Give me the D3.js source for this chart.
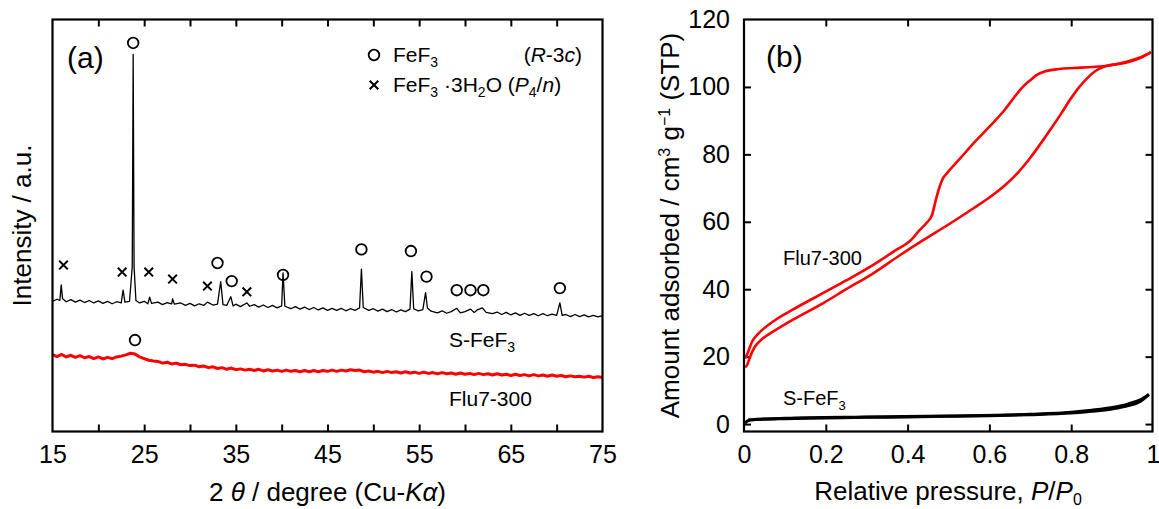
<!DOCTYPE html>
<html>
<head>
<meta charset="utf-8">
<script src="https://cdn.jsdelivr.net/npm/d3@7"></script>
<style>
  body { margin: 0; background: #fff; }
  text { font-family: 'Liberation Sans', Arial, sans-serif; fill: #000; }
</style>
</head>
<body>
<div class="canvas"></div>
<script>
// ---------- data: panel (a) XRD, [2theta, intensity (a.u.)] ----------
const sFeF3Xrd = [
  [15.0, 31.6], [15.5, 32.1], [15.8, 31.8], [15.95, 35.6], [16.1, 32.2], [16.5, 31.5], [17.0, 32.0],
  [17.5, 31.4], [18.0, 31.9], [18.5, 31.3], [19.0, 31.8], [19.5, 31.2], [20.0, 31.7], [20.5, 31.1],
  [21.0, 31.6], [21.5, 31.0], [22.0, 31.5], [22.5, 31.2], [22.7, 34.3], [22.9, 31.4], [23.4, 31.6],
  [23.7, 40.0], [23.8, 91.5], [23.9, 40.0], [24.1, 31.8], [24.5, 31.2], [25.0, 31.6], [25.4, 31.0],
  [25.6, 32.6], [25.8, 31.1], [26.5, 31.4], [27.0, 30.8], [27.5, 31.3], [28.0, 31.0], [28.1, 32.2],
  [28.3, 30.9], [29.0, 31.2], [29.5, 30.6], [30.0, 31.1], [30.5, 30.5], [31.0, 31.0], [31.5, 30.6],
  [31.9, 31.4], [32.5, 30.7], [33.0, 30.9], [33.35, 36.4], [33.6, 30.8], [34.0, 30.6], [34.45, 32.7],
  [34.7, 30.5], [35.0, 30.9], [35.5, 30.3], [36.2, 31.2], [36.5, 30.4], [37.0, 30.8], [37.5, 30.2],
  [38.0, 30.7], [38.5, 30.1], [39.0, 30.6], [39.5, 30.0], [40.0, 30.5], [40.15, 38.5], [40.35, 30.4],
  [41.0, 29.8], [41.5, 30.3], [42.0, 29.7], [42.5, 30.2], [43.0, 29.6], [43.5, 30.1], [44.0, 29.5],
  [44.5, 30.0], [45.0, 29.4], [45.5, 29.9], [46.0, 29.4], [46.5, 29.9], [47.0, 29.3], [47.5, 29.8],
  [48.0, 29.4], [48.5, 30.0], [48.7, 39.4], [48.9, 30.1], [49.5, 29.4], [50.0, 29.8], [50.5, 29.2],
  [51.0, 29.7], [51.5, 29.1], [52.0, 29.6], [52.5, 29.0], [53.0, 29.5], [53.5, 29.1], [54.0, 29.7],
  [54.2, 38.8], [54.4, 29.8], [54.9, 29.3], [55.4, 29.6], [55.7, 33.7], [55.9, 30.0], [56.3, 29.2],
  [57.0, 28.8], [57.5, 29.3], [58.0, 28.7], [58.5, 29.1], [59.1, 29.9], [59.5, 28.8], [60.0, 29.1],
  [60.6, 29.7], [61.0, 28.9], [61.4, 29.6], [61.9, 30.0], [62.3, 28.9], [63.0, 28.6], [63.5, 29.0],
  [64.0, 28.4], [64.5, 28.9], [65.0, 28.3], [65.5, 28.8], [66.0, 28.2], [66.5, 28.7], [67.0, 28.2],
  [67.5, 28.6], [68.0, 28.1], [68.5, 28.6], [69.0, 28.1], [69.5, 28.5], [70.0, 28.2], [70.35, 31.2],
  [70.6, 28.2], [71.0, 28.4], [71.5, 27.9], [72.0, 28.4], [72.5, 27.9], [73.0, 28.3], [73.5, 27.8],
  [74.0, 28.2], [74.5, 27.8], [75.0, 28.1]
];

const flu7Xrd = [
  [15.0, 18.6], [15.5, 18.2], [16.0, 18.7], [16.5, 18.1], [17.0, 18.5], [17.5, 18.0], [18.0, 18.4],
  [18.5, 17.9], [19.0, 18.2], [19.5, 17.7], [20.0, 18.1], [20.5, 17.6], [21.0, 18.0], [21.5, 17.7],
  [22.0, 18.1], [22.5, 18.3], [23.0, 18.6], [23.5, 19.0], [24.0, 18.8], [24.5, 18.1], [25.0, 17.7],
  [25.5, 17.3], [26.0, 17.1], [26.5, 17.0], [27.0, 16.6], [27.5, 16.8], [28.0, 16.4], [28.5, 16.6],
  [29.0, 16.2], [29.5, 16.3], [30.0, 16.0], [30.5, 16.1], [31.0, 15.7], [31.5, 15.9], [32.0, 15.5],
  [32.5, 15.7], [33.0, 15.3], [33.5, 15.5], [34.0, 15.1], [34.5, 15.4], [35.0, 15.0], [35.5, 15.2],
  [36.0, 14.9], [36.5, 15.1], [37.0, 14.8], [37.5, 15.1], [38.0, 14.7], [38.5, 15.0], [39.0, 14.7],
  [39.5, 14.9], [40.0, 14.6], [40.5, 14.9], [41.0, 14.6], [41.5, 14.8], [42.0, 14.5], [42.5, 14.8],
  [43.0, 14.5], [43.5, 14.8], [44.0, 14.5], [44.5, 14.8], [45.0, 14.6], [45.5, 14.9], [46.0, 14.6],
  [46.5, 14.9], [47.0, 14.7], [47.5, 15.0], [48.0, 14.8], [48.5, 14.9], [49.0, 14.5], [49.5, 14.7],
  [50.0, 14.4], [50.5, 14.6], [51.0, 14.3], [51.5, 14.6], [52.0, 14.3], [52.5, 14.5], [53.0, 14.2],
  [53.5, 14.5], [54.0, 14.2], [54.5, 14.4], [55.0, 14.1], [55.5, 14.4], [56.0, 14.1], [56.5, 14.3],
  [57.0, 14.0], [57.5, 14.3], [58.0, 14.0], [58.5, 14.2], [59.0, 13.9], [59.5, 14.2], [60.0, 13.9],
  [60.5, 14.1], [61.0, 13.8], [61.5, 14.1], [62.0, 13.8], [62.5, 14.0], [63.0, 13.7], [63.5, 14.0],
  [64.0, 13.7], [64.5, 13.9], [65.0, 13.6], [65.5, 13.9], [66.0, 13.6], [66.5, 13.8], [67.0, 13.5],
  [67.5, 13.8], [68.0, 13.5], [68.5, 13.7], [69.0, 13.4], [69.5, 13.7], [70.0, 13.4], [70.5, 13.6],
  [71.0, 13.3], [71.5, 13.5], [72.0, 13.3], [72.5, 13.4], [73.0, 13.2], [73.5, 13.4], [74.0, 13.1],
  [74.5, 13.3], [75.0, 13.1]
];

// phase markers [2theta, height]
const fef3Marks = [[23.8, 94.3], [33.0, 40.9], [34.55, 36.5], [40.15, 38.0], [48.7, 44.2], [54.1, 43.8],
  [55.8, 37.6], [59.1, 34.3], [60.6, 34.3], [62.0, 34.3], [70.35, 34.8]];
const flu7Marks = [[24.0, 22.2]];
const hydrateMarks = [[16.2, 40.4], [22.6, 38.7], [25.5, 38.7], [28.1, 37.0], [31.9, 35.3], [36.2, 33.9]];

const xTicksA = [20, 25, 30, 35, 40, 45, 50, 55, 60, 65, 70];
const xLabelsA = [15, 25, 35, 45, 55, 65, 75];

// ---------- data: panel (b) N2 isotherms, [P/P0, cm3 g-1] ----------
const flu7Ads = [
  [0.003, 16.8], [0.008, 17.6], [0.015, 20.0], [0.027, 23.0], [0.045, 25.3], [0.072, 27.5], [0.12, 31.0],
  [0.194, 35.9], [0.25, 40.0], [0.317, 44.8], [0.38, 50.0], [0.44, 54.7], [0.50, 59.2], [0.562, 64.1],
  [0.60, 67.2], [0.636, 70.6], [0.67, 74.6], [0.70, 79.0], [0.73, 84.0], [0.75, 87.5], [0.775, 92.0],
  [0.795, 95.8], [0.82, 100.0], [0.84, 102.7], [0.86, 104.8], [0.88, 106.0], [0.93, 107.1],
  [0.97, 108.6], [0.995, 110.3]
];
const flu7Des = [
  [0.003, 19.5], [0.008, 20.8], [0.02, 24.5], [0.035, 26.8], [0.072, 30.5], [0.12, 34.0], [0.194, 38.9],
  [0.25, 42.6], [0.317, 47.3], [0.37, 51.5], [0.41, 54.8], [0.427, 57.2], [0.445, 59.5], [0.46, 62.1],
  [0.468, 66.0], [0.476, 69.5], [0.487, 73.0], [0.497, 74.5], [0.53, 79.0], [0.562, 83.4], [0.60, 88.2],
  [0.636, 93.0], [0.66, 96.8], [0.68, 99.8], [0.70, 102.0], [0.715, 103.5], [0.735, 104.6],
  [0.77, 105.3], [0.807, 105.6], [0.85, 105.9], [0.889, 106.3], [0.93, 107.3], [0.97, 108.8], [0.995, 110.3]
];
const sFeF3Ads = [
  [0.002, 0.3], [0.01, 1.0], [0.02, 1.3], [0.05, 1.5], [0.1, 1.6], [0.2, 1.8], [0.3, 2.0], [0.4, 2.1],
  [0.5, 2.3], [0.6, 2.5], [0.7, 2.8], [0.8, 3.3], [0.85, 3.8], [0.9, 4.5], [0.94, 5.5], [0.97, 6.8], [0.99, 8.8]
];
const sFeF3Des = [
  [0.01, 1.2], [0.1, 1.7], [0.3, 2.1], [0.5, 2.4], [0.7, 2.9], [0.8, 3.5], [0.85, 4.1], [0.9, 4.9],
  [0.94, 6.0], [0.97, 7.3], [0.99, 8.8]
];

const xTicksB = [0.2, 0.4, 0.6, 0.8];
const xLabelsB = [0, 0.2, 0.4, 0.6, 0.8, 1];
const yTicksB = [0, 20, 40, 60, 80, 100];
const yLabelsB = [0, 20, 40, 60, 80, 100, 120];

// ---------- layout ----------
const dims = { width: 1159, height: 509 };
const boxA = { left: 52.5, right: 602.5, top: 19.5, bottom: 431.5 };
const boxB = { left: 744, right: 1152.5, top: 19.5, bottom: 431.5 };
const tickFont = 25;
const titleFont = 26;

const svg = d3.select('.canvas')
  .append('svg')
  .attr('width', dims.width)
  .attr('height', dims.height);

svg.append('rect').attr('width', dims.width).attr('height', dims.height).attr('fill', '#fff');

const xA = d3.scaleLinear().domain([15, 75]).range([boxA.left, boxA.right]);
const yA = d3.scaleLinear().domain([0, 100]).range([boxA.bottom, boxA.top]);
const xB = d3.scaleLinear().domain([0, 1]).range([boxB.left, 1153]);
const yB = d3.scaleLinear().domain([-2.2, 120]).range([boxB.bottom, boxB.top]);

// inward ticks with no labels
const tickAxis = (g, axis, values) => {
  g.call(axis.tickValues(values).tickSize(-7).tickFormat(''));
  g.select('.domain').remove();
  g.selectAll('line').attr('stroke', '#000').attr('stroke-width', 2);
};
// labels only
const labelAxis = (g, axis, values, fmt) => {
  g.call(axis.tickValues(values).tickSize(0).tickPadding(14).tickFormat(fmt));
  g.select('.domain').remove();
  g.selectAll('text').attr('font-size', tickFont).attr('font-family', "'Liberation Sans', Arial, sans-serif").attr('fill', '#000');
};

// ===== panel (a) =====
const gA = svg.append('g');

gA.append('g').attr('transform', `translate(0,${boxA.bottom})`).call(tickAxis, d3.axisBottom(xA), xTicksA);
gA.append('g').attr('transform', `translate(0,${boxA.top})`).call(tickAxis, d3.axisTop(xA), xTicksA);
gA.append('g').attr('transform', `translate(0,${boxA.bottom})`).call(labelAxis, d3.axisBottom(xA), xLabelsA, d3.format('d'));

const lineA = d3.line().x((d) => xA(d[0])).y((d) => yA(d[1]));

gA.append('path').datum(flu7Xrd)
  .attr('d', lineA).attr('fill', 'none').attr('stroke', '#ff0000').attr('stroke-width', 3)
  .attr('stroke-linejoin', 'round');
gA.append('path').datum(sFeF3Xrd)
  .attr('d', lineA).attr('fill', 'none').attr('stroke', '#000').attr('stroke-width', 1.3)
  .attr('stroke-linejoin', 'round');

// markers
gA.selectAll('circle.fef3').data(fef3Marks.concat(flu7Marks)).enter().append('circle')
  .attr('class', 'fef3')
  .attr('cx', (d) => xA(d[0])).attr('cy', (d) => yA(d[1])).attr('r', 5.3)
  .attr('fill', 'none').attr('stroke', '#000').attr('stroke-width', 1.8);

const crossPath = (x, y, s) => `M${x - s},${y - s}L${x + s},${y + s}M${x - s},${y + s}L${x + s},${y - s}`;
gA.selectAll('path.hyd').data(hydrateMarks).enter().append('path')
  .attr('class', 'hyd')
  .attr('d', (d) => crossPath(xA(d[0]), yA(d[1]), 4.3))
  .attr('stroke', '#000').attr('stroke-width', 2);

// legend
gA.append('circle').attr('cx', 374).attr('cy', 55).attr('r', 5.3)
  .attr('fill', 'none').attr('stroke', '#000').attr('stroke-width', 1.8);
gA.append('path').attr('d', crossPath(374, 85, 4.3)).attr('stroke', '#000').attr('stroke-width', 2);

const leg1 = gA.append('text').attr('x', 393).attr('y', 62).attr('font-size', 21);
leg1.append('tspan').text('FeF');
leg1.append('tspan').attr('font-size', 14).attr('dy', 5).text('3');

const leg1b = gA.append('text').attr('x', 582).attr('y', 62).attr('font-size', 21).attr('text-anchor', 'end');
leg1b.append('tspan').text('(');
leg1b.append('tspan').attr('font-style', 'italic').text('R');
leg1b.append('tspan').text('-3');
leg1b.append('tspan').attr('font-style', 'italic').text('c');
leg1b.append('tspan').text(')');

const leg2 = gA.append('text').attr('x', 393).attr('y', 92).attr('font-size', 21);
leg2.append('tspan').text('FeF');
leg2.append('tspan').attr('font-size', 14).attr('dy', 5).text('3');
leg2.append('tspan').attr('dy', -5).text(' \u00b73H');
leg2.append('tspan').attr('font-size', 14).attr('dy', 5).text('2');
leg2.append('tspan').attr('dy', -5).text('O (');
leg2.append('tspan').attr('font-style', 'italic').text('P');
leg2.append('tspan').attr('font-size', 14).attr('dy', 5).text('4');
leg2.append('tspan').attr('dy', -5).text('/');
leg2.append('tspan').attr('font-style', 'italic').text('n');
leg2.append('tspan').text(')');

// series labels
const labS = gA.append('text').attr('x', 449).attr('y', 347).attr('font-size', 21);
labS.append('tspan').text('S-FeF');
labS.append('tspan').attr('font-size', 14).attr('dy', 5).text('3');
gA.append('text').attr('x', 449).attr('y', 406).attr('font-size', 21).text('Flu7-300');

gA.append('text').attr('x', 67).attr('y', 68).attr('font-size', 30).text('(a)');

// frame
gA.append('rect')
  .attr('x', boxA.left).attr('y', boxA.top)
  .attr('width', boxA.right - boxA.left).attr('height', boxA.bottom - boxA.top)
  .attr('fill', 'none').attr('stroke', '#000').attr('stroke-width', 2.2);

// titles
gA.append('text')
  .attr('transform', `translate(22,${(boxA.top + boxA.bottom) / 2}) rotate(-90)`)
  .attr('text-anchor', 'middle').attr('dy', '0.35em').attr('font-size', titleFont)
  .text('Intensity / a.u.');

const tA = gA.append('text').attr('x', (boxA.left + boxA.right) / 2).attr('y', 501)
  .attr('text-anchor', 'middle').attr('font-size', titleFont);
tA.append('tspan').text('2 ');
tA.append('tspan').attr('font-style', 'italic').text('\u03b8');
tA.append('tspan').text(' / degree (Cu-');
tA.append('tspan').attr('font-style', 'italic').text('K\u03b1');
tA.append('tspan').text(')');

// ===== panel (b) =====
const gB = svg.append('g');

gB.append('g').attr('transform', `translate(0,${boxB.bottom})`).call(tickAxis, d3.axisBottom(xB), xTicksB);
gB.append('g').attr('transform', `translate(0,${boxB.top})`).call(tickAxis, d3.axisTop(xB), xTicksB);
gB.append('g').attr('transform', `translate(${boxB.left},0)`).call(tickAxis, d3.axisLeft(yB), yTicksB);
gB.append('g').attr('transform', `translate(${boxB.right},0)`).call(tickAxis, d3.axisRight(yB), yTicksB);
gB.append('g').attr('transform', `translate(0,${boxB.bottom})`).call(labelAxis, d3.axisBottom(xB), xLabelsB, (d) => (d === 0 || d === 1 ? d3.format('d')(d) : d3.format('.1f')(d)));
gB.append('g').attr('transform', `translate(${boxB.left},0)`).call(labelAxis, d3.axisLeft(yB), yLabelsB, d3.format('d'));

const lineB = d3.line().x((d) => xB(d[0])).y((d) => yB(d[1])).curve(d3.curveMonotoneX);

[sFeF3Ads, sFeF3Des].forEach((s) => {
  gB.append('path').datum(s).attr('d', lineB)
    .attr('fill', 'none').attr('stroke', '#000').attr('stroke-width', 3);
});
[flu7Ads, flu7Des].forEach((s) => {
  gB.append('path').datum(s).attr('d', lineB)
    .attr('fill', 'none').attr('stroke', '#ff0000').attr('stroke-width', 2.6);
});

gB.append('text').attr('x', 783).attr('y', 265).attr('font-size', 20).text('Flu7-300');
const labSB = gB.append('text').attr('x', 783).attr('y', 405).attr('font-size', 20);
labSB.append('tspan').text('S-FeF');
labSB.append('tspan').attr('font-size', 13).attr('dy', 5).text('3');

gB.append('text').attr('x', 766).attr('y', 67).attr('font-size', 30).text('(b)');

gB.append('rect')
  .attr('x', boxB.left).attr('y', boxB.top)
  .attr('width', boxB.right - boxB.left).attr('height', boxB.bottom - boxB.top)
  .attr('fill', 'none').attr('stroke', '#000').attr('stroke-width', 2.2);

const tBy = gB.append('text')
  .attr('transform', `translate(670,${(boxB.top + boxB.bottom) / 2}) rotate(-90)`)
  .attr('text-anchor', 'middle').attr('dy', '0.35em').attr('font-size', titleFont);
tBy.append('tspan').text('Amount adsorbed / cm');
tBy.append('tspan').attr('font-size', 16).attr('dy', -9).text('3');
tBy.append('tspan').attr('dy', 9).text(' g');
tBy.append('tspan').attr('font-size', 16).attr('dy', -9).text('\u22121');
tBy.append('tspan').attr('dy', 9).text(' (STP)');

const tBx = gB.append('text').attr('x', 948).attr('y', 500)
  .attr('text-anchor', 'middle').attr('font-size', titleFont);
tBx.append('tspan').text('Relative pressure, ');
tBx.append('tspan').attr('font-style', 'italic').text('P');
tBx.append('tspan').text('/');
tBx.append('tspan').attr('font-style', 'italic').text('P');
tBx.append('tspan').attr('font-size', 16).attr('dy', 5).text('0');
</script>
</body>
</html>
